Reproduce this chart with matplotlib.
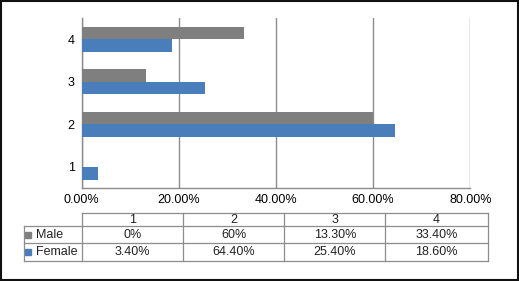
import matplotlib
matplotlib.use('Agg')
import matplotlib.pyplot as plt
from matplotlib.patches import Rectangle
from matplotlib.lines import Line2D
import numpy as np

plt.rcParams['font.family'] = ['Liberation Sans', 'DejaVu Sans']

#Data
categories = ['1', '2', '3', '4']
male = [0.0, 60.0, 13.3, 33.4]
female = [3.4, 64.4, 25.4, 18.6]
male_labels = ['0%', '60%', '13.30%', '33.40%']
female_labels = ['3.40%', '64.40%', '25.40%', '18.60%']
series_names = ['Male', 'Female']
xticks = [0, 20, 40, 60, 80]

GREY = '#7f7f7f'
BLUE = '#4a7ebb'
LINE = '#8c8c8c'
FS = 9

W, H = 519, 281
fig = plt.figure(figsize=(W / 100, H / 100), dpi=100)

def fx(px):
    return px / W

def fy(py):
    return 1 - py / H

#Chart area
left, right, top, bottom = 81.7, 470.3, 18, 188
ax = fig.add_axes([fx(left), fy(bottom), fx(right) - fx(left), fy(top) - fy(bottom)])

y = np.arange(1, len(categories) + 1)
h = 0.3
ax.barh(y + h / 2, male, height=h, color=GREY, zorder=3)
ax.barh(y - h / 2, female, height=h, color=BLUE, zorder=3)

ax.set_xlim(0, 80)
ax.set_ylim(0.5, 4.5)
ax.set_xticks(xticks)
ax.set_xticklabels(['%.2f%%' % v for v in xticks], fontsize=FS)
ax.set_yticks(y)
ax.set_yticklabels(categories, fontsize=FS)
ax.tick_params(length=0, pad=5)
ax.tick_params(axis='x', pad=4)
ax.grid(axis='x', color=LINE, linewidth=1, zorder=0)
for s in ['top', 'right']:
    ax.spines[s].set_visible(False)
for s in ['left', 'bottom']:
    ax.spines[s].set_color(LINE)
    ax.spines[s].set_linewidth(1)

#Data table below
col_x = [24, 81.7, 183.3, 284.3, 385.3, 488]
row_y = [213.3, 226, 243.3, 261.3]

def hline(x0, x1, yy):
    fig.add_artist(Line2D([fx(x0), fx(x1)], [fy(yy), fy(yy)], color=LINE, lw=0.9))

def vline(xx, y0, y1):
    fig.add_artist(Line2D([fx(xx), fx(xx)], [fy(y0), fy(y1)], color=LINE, lw=0.9))

hline(col_x[1], col_x[-1], row_y[0])
for yy in row_y[1:]:
    hline(col_x[0], col_x[-1], yy)
vline(col_x[0], row_y[1], row_y[-1])
for xx in col_x[1:]:
    vline(xx, row_y[0], row_y[-1])

rows = [categories, male_labels, female_labels]
for r, vals in enumerate(rows):
    cy = (row_y[r] + row_y[r + 1]) / 2
    for c, v in enumerate(vals):
        cx = (col_x[c + 1] + col_x[c + 2]) / 2
        fig.text(fx(cx), fy(cy), v, ha='center', va='center', fontsize=FS, color='#222222')

for i, (name, col) in enumerate(zip(series_names, [GREY, BLUE])):
    cy = (row_y[i + 1] + row_y[i + 2]) / 2
    fig.add_artist(Rectangle((fx(25), fy(cy + 3)), fx(6), fy(cy - 3) - fy(cy + 3), color=col))
    fig.text(fx(36), fy(cy), name, ha='left', va='center', fontsize=FS, color='#222222')

#Outer frame
fig.add_artist(Rectangle((0.001, 0.002), 0.997, 0.995, fill=False, edgecolor='#111111', lw=1.5))

fig.savefig('out.png', dpi=100)
